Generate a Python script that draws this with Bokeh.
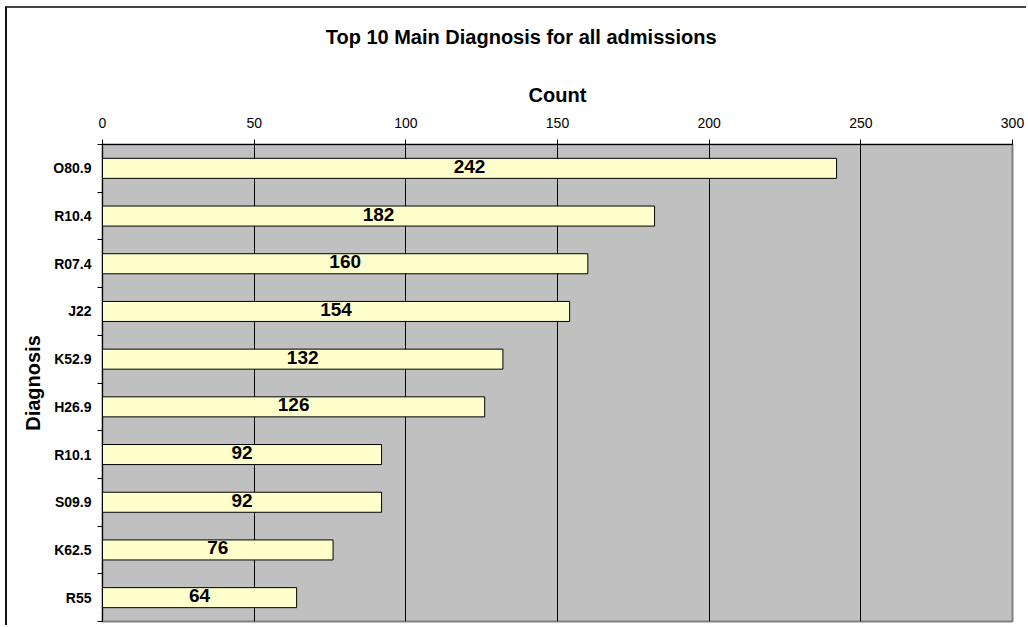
from bokeh.plotting import figure
from bokeh.models import Range1d, FixedTicker, ColumnDataSource, LinearAxis
from bokeh.embed import file_html
from bokeh.resources import INLINE
from bokeh.core.properties import value

# Top 10 main diagnoses, counted over all admissions
diagnoses = ["O80.9", "R10.4", "R07.4", "J22", "K52.9", "H26.9", "R10.1", "S09.9", "K62.5", "R55"]
counts = [242, 182, 160, 154, 132, 126, 92, 92, 76, 64]
count_ticks = [0, 50, 100, 150, 200, 250, 300]
chart_title = "Top 10 Main Diagnosis for all admissions"

FONT = "Liberation Sans"

n = len(diagnoses)
rows = list(range(1, n + 1))
boundaries = [i + 0.5 for i in range(0, n + 1)]

source = ColumnDataSource(dict(
    diag=diagnoses,
    count=counts,
    row=rows,
    mid=[c / 2 for c in counts],
    label=[str(c) for c in counts],
))

# chart area framed by a thin border on its top and left edges
p = figure(
    width=1021, height=619,
    output_backend="svg", toolbar_location=None,
    x_range=Range1d(0, 300), y_range=Range1d(n + 0.5, 0.5),
    x_axis_location="above",
    min_border_left=95, min_border_right=16,
    min_border_top=136, min_border_bottom=6,
    background_fill_color="#C0C0C0",
    border_fill_color="white",
    margin=(6, 0, 0, 5),
    styles={"border-left": "2px solid #111111", "border-top": "2px solid #444444"},
)

# plot area border
p.outline_line_color = "#808080"
p.outline_line_width = 2

# count axis on top
xa = p.xaxis[0]
xa.ticker = FixedTicker(ticks=count_ticks)
xa.axis_label = "Count"
xa.axis_label_text_font = FONT
xa.axis_label_text_font_size = "20px"
xa.axis_label_text_font_style = "bold"
xa.axis_label_text_color = "black"
xa.axis_label_standoff = 9
xa.major_label_text_font = FONT
xa.major_label_text_font_size = "14px"
xa.major_label_text_color = "black"
xa.major_label_standoff = 12
xa.major_tick_out = 5
xa.major_tick_in = 0
xa.minor_tick_out = 0
xa.minor_tick_in = 0
xa.axis_line_color = "black"
xa.major_tick_line_color = "black"

# chart title, carried by a bare axis stacked above the count axis
TITLE_AT = 138
title_axis = LinearAxis(
    ticker=FixedTicker(ticks=[TITLE_AT]),
    major_label_overrides={TITLE_AT: chart_title},
    major_label_text_font=FONT,
    major_label_text_font_size="20px",
    major_label_text_font_style="bold",
    major_label_text_color="black",
    major_label_standoff=33,
    axis_line_color=None,
    major_tick_line_color=None,
    minor_tick_line_color=None,
    major_tick_out=0, major_tick_in=0,
    minor_tick_out=0, minor_tick_in=0,
)
p.add_layout(title_axis, "above")

# diagnosis axis on the left, ticks between categories
ya = p.yaxis[0]
ya.ticker = FixedTicker(ticks=rows, minor_ticks=boundaries)
ya.major_label_overrides = {r: d for r, d in zip(rows, diagnoses)}
ya.axis_label = "Diagnosis"
ya.axis_label_text_font = FONT
ya.axis_label_text_font_size = "20px"
ya.axis_label_text_font_style = "bold"
ya.axis_label_text_color = "black"
ya.axis_label_standoff = 6
ya.major_label_text_font = FONT
ya.major_label_text_font_size = "14px"
ya.major_label_text_font_style = "bold"
ya.major_label_text_color = "black"
ya.major_label_standoff = 6
ya.major_tick_out = 0
ya.major_tick_in = 0
ya.minor_tick_out = 5
ya.minor_tick_in = 0
ya.minor_tick_line_color = "black"
ya.axis_line_color = "black"

# vertical grid lines only
p.xgrid.ticker = FixedTicker(ticks=count_ticks)
p.xgrid.grid_line_color = "black"
p.xgrid.grid_line_width = 1
p.ygrid.visible = False

p.hbar(y="row", left=0, right="count", height=0.42, source=source,
       fill_color="#FFFFCC", line_color="black", line_width=1)

p.text(x="mid", y="row", text="label", source=source,
       text_align="center", text_baseline="middle", y_offset=-2,
       text_font=value(FONT), text_font_size="19px", text_font_style="bold",
       text_color="black")

open("out.html", "w").write(file_html(p, INLINE))
